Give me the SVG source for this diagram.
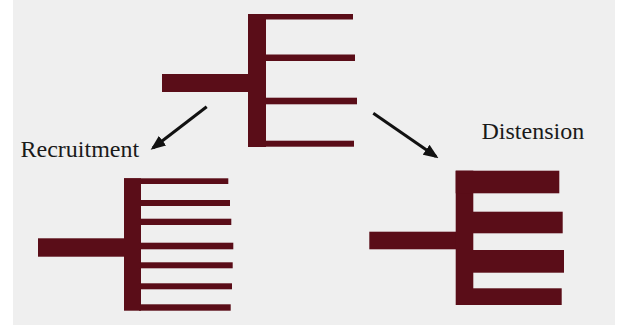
<svg xmlns="http://www.w3.org/2000/svg" width="618" height="325" viewBox="0 0 618 325">
<defs>
<style>
.bar{fill:#5a0d18}
.lbl{font-family:"Liberation Serif","Times New Roman",serif;font-size:24px;fill:#1a1a1a}
.conn{stroke:#111;stroke-width:3;fill:none;marker-end:url(#ah)}
</style>
<marker id="ah" markerWidth="5" markerHeight="4" refX="4" refY="2" orient="auto" markerUnits="strokeWidth">
<path d="M0,0 L5,2 L0,4 Z" fill="#111"/>
</marker>
</defs>
<rect x="0" y="0" width="618" height="325" fill="#ffffff"/>
<rect x="13" y="0" width="602" height="325" fill="#efefef"/>
<g id="original">
<rect class="bar" x="162" y="74" width="88" height="18"/>
<rect class="bar" x="248" y="14" width="18" height="133"/>
<rect class="bar" x="248" y="14" width="105" height="5.5"/>
<rect class="bar" x="264" y="54.5" width="91" height="6.5"/>
<rect class="bar" x="264" y="97.7" width="93" height="6.6"/>
<rect class="bar" x="264" y="140.7" width="90" height="6"/>
</g>
<g id="recruitment">
<rect class="bar" x="38" y="238.3" width="88" height="18.4"/>
<rect class="bar" x="124" y="178.3" width="17" height="132.4"/>
<rect class="bar" x="124" y="178.3" width="104.3" height="5.7"/>
<rect class="bar" x="139" y="200" width="91" height="6"/>
<rect class="bar" x="139" y="218.7" width="92.3" height="6.3"/>
<rect class="bar" x="139" y="242.7" width="94.3" height="6.6"/>
<rect class="bar" x="139" y="262.3" width="93.7" height="6"/>
<rect class="bar" x="139" y="283.3" width="93" height="6"/>
<rect class="bar" x="139" y="304.3" width="91.7" height="6.4"/>
</g>
<g id="distension">
<rect class="bar" x="369.3" y="231.7" width="88" height="17.6"/>
<rect class="bar" x="455.7" y="170.7" width="17.6" height="134.3"/>
<rect class="bar" x="455.7" y="170.7" width="103.6" height="22.6"/>
<rect class="bar" x="471" y="211.7" width="91.7" height="21.6"/>
<rect class="bar" x="471" y="250" width="93" height="22.7"/>
<rect class="bar" x="471" y="288.3" width="90.7" height="16.7"/>
</g>
<g id="labels">
<text class="lbl" x="20.5" y="156.5">Recruitment</text>
<text class="lbl" x="481.5" y="139.3">Distension</text>
</g>
<g id="connectors">
<line class="conn" x1="206.7" y1="106.7" x2="153" y2="148"/>
<line class="conn" x1="373.3" y1="113.3" x2="436" y2="156.5"/>
</g>
</svg>
